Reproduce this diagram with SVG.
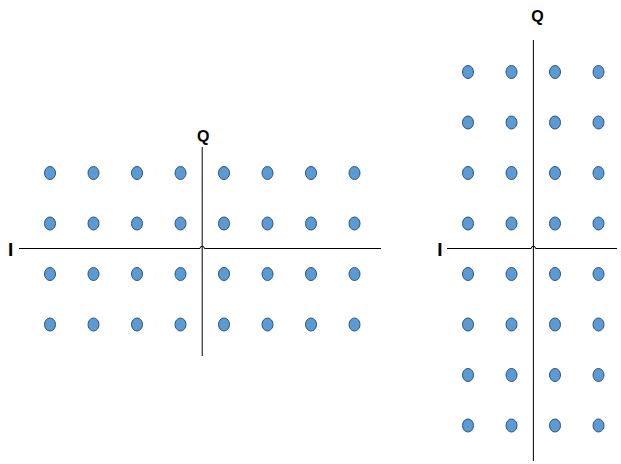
<svg xmlns="http://www.w3.org/2000/svg" width="621" height="464" viewBox="0 0 621 464">
<style>
.ax{fill:none;stroke:#000;stroke-width:1}
.dot{fill:#5B9BD5;stroke:#2F5276;stroke-width:1}
.lbl{font-family:"Liberation Sans",Arial,sans-serif;font-weight:bold;font-size:16px;fill:#000}
.lblI{font-size:19px}
</style>
<defs>
<ellipse id="d" class="dot" cx="0" cy="0" rx="5.5" ry="6.5"/>
</defs>
<rect width="621" height="464" fill="#fff"/>
<g id="connectors">
<path class="ax" d="M19,248.5 H200 A2.2,2.2 0 0 1 204.4,248.5 H381"/>
<path class="ax" d="M202.2,147 V356"/>
<path class="ax" d="M447,248.5 H531.2 A2.2,2.2 0 0 1 535.6,248.5 H617"/>
<path class="ax" d="M533.4,40 V461"/>
</g>
<g id="labels">
<text class="lbl" x="203.3" y="141.5" text-anchor="middle">Q</text>
<text class="lbl lblI" x="10.7" y="255.5" text-anchor="middle">I</text>
<text class="lbl" x="537.5" y="22" text-anchor="middle">Q</text>
<text class="lbl lblI" x="440" y="255.5" text-anchor="middle">I</text>
</g>
<g id="constellation-left">
<g id="L-r1">
<use href="#d" x="50" y="173"/><use href="#d" x="93.5" y="173"/><use href="#d" x="137" y="173"/><use href="#d" x="180.5" y="173"/><use href="#d" x="224" y="173"/><use href="#d" x="267.5" y="173"/><use href="#d" x="311" y="173"/><use href="#d" x="354.5" y="173"/>
</g>
<g id="L-r2">
<use href="#d" x="50" y="223.5"/><use href="#d" x="93.5" y="223.5"/><use href="#d" x="137" y="223.5"/><use href="#d" x="180.5" y="223.5"/><use href="#d" x="224" y="223.5"/><use href="#d" x="267.5" y="223.5"/><use href="#d" x="311" y="223.5"/><use href="#d" x="354.5" y="223.5"/>
</g>
<g id="L-r3">
<use href="#d" x="50" y="274"/><use href="#d" x="93.5" y="274"/><use href="#d" x="137" y="274"/><use href="#d" x="180.5" y="274"/><use href="#d" x="224" y="274"/><use href="#d" x="267.5" y="274"/><use href="#d" x="311" y="274"/><use href="#d" x="354.5" y="274"/>
</g>
<g id="L-r4">
<use href="#d" x="50" y="324.5"/><use href="#d" x="93.5" y="324.5"/><use href="#d" x="137" y="324.5"/><use href="#d" x="180.5" y="324.5"/><use href="#d" x="224" y="324.5"/><use href="#d" x="267.5" y="324.5"/><use href="#d" x="311" y="324.5"/><use href="#d" x="354.5" y="324.5"/>
</g>
</g>
<g id="constellation-right">
<g id="R-c1">
<use href="#d" x="468" y="72"/><use href="#d" x="468" y="122.5"/><use href="#d" x="468" y="173"/><use href="#d" x="468" y="223.5"/><use href="#d" x="468" y="274"/><use href="#d" x="468" y="324.5"/><use href="#d" x="468" y="375"/><use href="#d" x="468" y="425.5"/>
</g>
<g id="R-c2">
<use href="#d" x="511.5" y="72"/><use href="#d" x="511.5" y="122.5"/><use href="#d" x="511.5" y="173"/><use href="#d" x="511.5" y="223.5"/><use href="#d" x="511.5" y="274"/><use href="#d" x="511.5" y="324.5"/><use href="#d" x="511.5" y="375"/><use href="#d" x="511.5" y="425.5"/>
</g>
<g id="R-c3">
<use href="#d" x="555" y="72"/><use href="#d" x="555" y="122.5"/><use href="#d" x="555" y="173"/><use href="#d" x="555" y="223.5"/><use href="#d" x="555" y="274"/><use href="#d" x="555" y="324.5"/><use href="#d" x="555" y="375"/><use href="#d" x="555" y="425.5"/>
</g>
<g id="R-c4">
<use href="#d" x="598.5" y="72"/><use href="#d" x="598.5" y="122.5"/><use href="#d" x="598.5" y="173"/><use href="#d" x="598.5" y="223.5"/><use href="#d" x="598.5" y="274"/><use href="#d" x="598.5" y="324.5"/><use href="#d" x="598.5" y="375"/><use href="#d" x="598.5" y="425.5"/>
</g>
</g>
</svg>
